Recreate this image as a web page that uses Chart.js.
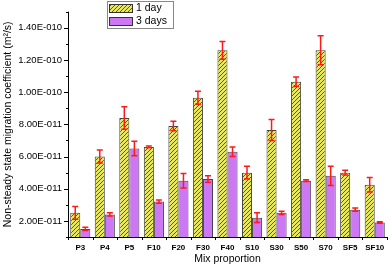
<!DOCTYPE html>
<html>
<head>
<meta charset="utf-8">
<script src="https://cdn.jsdelivr.net/npm/chart.js@4"></script>
<style>
  html, body { margin: 0; padding: 0; background: #fff; }
  #wrap { width: 392px; height: 267px; }
</style>
</head>
<body>
<div id="wrap"><canvas id="myChart" width="392" height="267"></canvas></div>
<script>
// values in units of 1E-011 m2/s
var mixes = ["P3","P4","P5","F10","F20","F30","F40","S10","S30","S50","S70","SF5","SF10"];
var day1  = [2.5, 6.0, 8.4, 6.6, 7.9, 9.65, 12.6, 5.0, 7.65, 10.65, 12.6, 5.0, 4.25];
var err1  = [0.4, 0.4, 0.7, 0.05, 0.3, 0.4, 0.55, 0.4, 0.65, 0.3, 0.9, 0.15, 0.45];
var day3  = [1.5, 2.4, 6.5, 3.2, 4.5, 4.6, 6.3, 2.2, 2.5, 4.5, 4.8, 2.7, 1.9];
var err3  = [0.1, 0.1, 0.45, 0.1, 0.45, 0.2, 0.3, 0.3, 0.1, 0.05, 0.6, 0.1, 0.05];
var yTicks = [2, 4, 6, 8, 10, 12, 14];

function sci(v){
  var s = (v*1e-11).toExponential(2).split('e');
  var ex = parseInt(s[1],10);
  var sign = ex < 0 ? '-' : '+';
  var n = String(Math.abs(ex)); while(n.length<3) n='0'+n;
  return s[0] + 'E' + sign + n;
}

function hatch(){
  var c = document.createElement('canvas');
  c.width = 4; c.height = 4;
  var g = c.getContext('2d');
  g.fillStyle = '#e8e860';
  g.fillRect(0,0,4,4);
  g.strokeStyle = '#5a5a2a';
  g.lineWidth = 1;
  g.beginPath();
  g.moveTo(-1,5); g.lineTo(5,-1);
  g.moveTo(-1,1); g.lineTo(1,-1);
  g.moveTo(3,5); g.lineTo(5,3);
  g.stroke();
  return g.createPattern(c,'repeat');
}
var pat = hatch();
var violet = '#cc77f4';

var errPlugin = {
  id: 'errs',
  afterDatasetsDraw: function(chart){
    var ctx = chart.ctx, y = chart.scales.y;
    var errs = [err1, err3];
    ctx.save();
    ctx.strokeStyle = '#ff1a1a';
    ctx.lineWidth = 1.5;
    chart.data.datasets.forEach(function(ds, di){
      var meta = chart.getDatasetMeta(di);
      meta.data.forEach(function(bar, i){
        var v = ds.data[i], e = errs[di][i];
        var top = y.getPixelForValue(v+e), bot = y.getPixelForValue(v-e);
        ctx.beginPath();
        ctx.moveTo(bar.x, top); ctx.lineTo(bar.x, bot);
        ctx.moveTo(bar.x-3, top); ctx.lineTo(bar.x+3, top);
        ctx.moveTo(bar.x-3, bot); ctx.lineTo(bar.x+3, bot);
        ctx.stroke();
      });
    });
    ctx.restore();
  },
  afterDraw: function(chart){
    var ctx = chart.ctx, a = chart.chartArea, y = chart.scales.y, x = chart.scales.x;
    ctx.save();
    ctx.strokeStyle = '#000';
    ctx.lineWidth = 1;
    ctx.beginPath();
    ctx.moveTo(a.left+0.5, a.top); ctx.lineTo(a.left+0.5, a.bottom+0.5);
    ctx.lineTo(a.right, a.bottom+0.5);
    for (var t = 1; t <= 15; t++){
      var py = Math.round(y.getPixelForValue(t))+0.5;
      var len = (t % 2 === 0) ? 4 : 2;
      ctx.moveTo(a.left-len, py); ctx.lineTo(a.left, py);
    }
    var w = (a.right-a.left)/mixes.length;
    for (var k = 0; k <= mixes.length; k++){
      var px = Math.round(a.left + k*w)+0.5;
      ctx.moveTo(px, a.bottom); ctx.lineTo(px, a.bottom+3);
    }
    ctx.stroke();
    // legend
    ctx.fillStyle = '#fff';
    ctx.strokeStyle = '#888';
    ctx.fillRect(107.5, 1.5, 66, 27);
    ctx.strokeRect(107.5, 1.5, 66, 27);
    ctx.fillStyle = pat;
    ctx.fillRect(109.5, 4.5, 23, 8);
    ctx.strokeStyle = '#333';
    ctx.strokeRect(109.5, 4.5, 23, 8);
    ctx.fillStyle = violet;
    ctx.fillRect(109.5, 17.5, 23, 8);
    ctx.strokeRect(109.5, 17.5, 23, 8);
    ctx.fillStyle = '#000';
    ctx.font = '10.5px "Liberation Sans", Arial, sans-serif';
    ctx.textBaseline = 'middle';
    ctx.fillText(chart.data.datasets[0].label, 136, 8.5);
    ctx.fillText(chart.data.datasets[1].label, 136, 21.5);
    ctx.restore();
  }
};

new Chart(document.getElementById("myChart"), {
  type: 'bar',
  data: {
    labels: mixes,
    datasets: [
      { label: "1 day", data: day1, backgroundColor: pat, borderColor: '#444', borderWidth: 1,
        categoryPercentage: 0.82, barPercentage: 1 },
      { label: "3 days", data: day3, backgroundColor: violet, borderColor: '#444', borderWidth: 1,
        categoryPercentage: 0.82, barPercentage: 1 }
    ]
  },
  plugins: [errPlugin],
  options: {
    responsive: false,
    animation: false,
    layout: { padding: { left: 0, right: 5, top: 1, bottom: 0 } },
    plugins: { legend: { display: false }, tooltip: { enabled: false } },
    scales: {
      x: {
        grid: { display: false, drawTicks: false },
        border: { display: false },
        ticks: { color: '#000', font: { size: 8, weight: 'bold', family: '"Liberation Sans", Arial, sans-serif' },
                 padding: 6, maxRotation: 0, autoSkip: false },
        title: { display: true, text: 'Mix proportion', color: '#000', padding: { top: 2, bottom: 2 },
                 font: { size: 10.5, family: '"Liberation Sans", Arial, sans-serif' } },
        afterFit: function(s){ s.height = 30; }
      },
      y: {
        min: 1, max: 15,
        afterBuildTicks: function(s){ s.ticks = yTicks.map(function(v){ return { value: v }; }); },
        grid: { display: false, drawTicks: false },
        border: { display: false },
        ticks: { color: '#000', padding: 6, callback: function(v){ return sci(v); },
                 font: { size: 9.5, family: '"Liberation Sans", Arial, sans-serif' } },
        title: { display: true, text: 'Non-steady state migration coefficient (m²/s)', color: '#000',
                 padding: { top: 2, bottom: 0 },
                 font: { size: 10.5, family: '"Liberation Sans", Arial, sans-serif' } },
        afterFit: function(s){ s.width = 68; }
      }
    }
  }
});
</script>
</body>
</html>
